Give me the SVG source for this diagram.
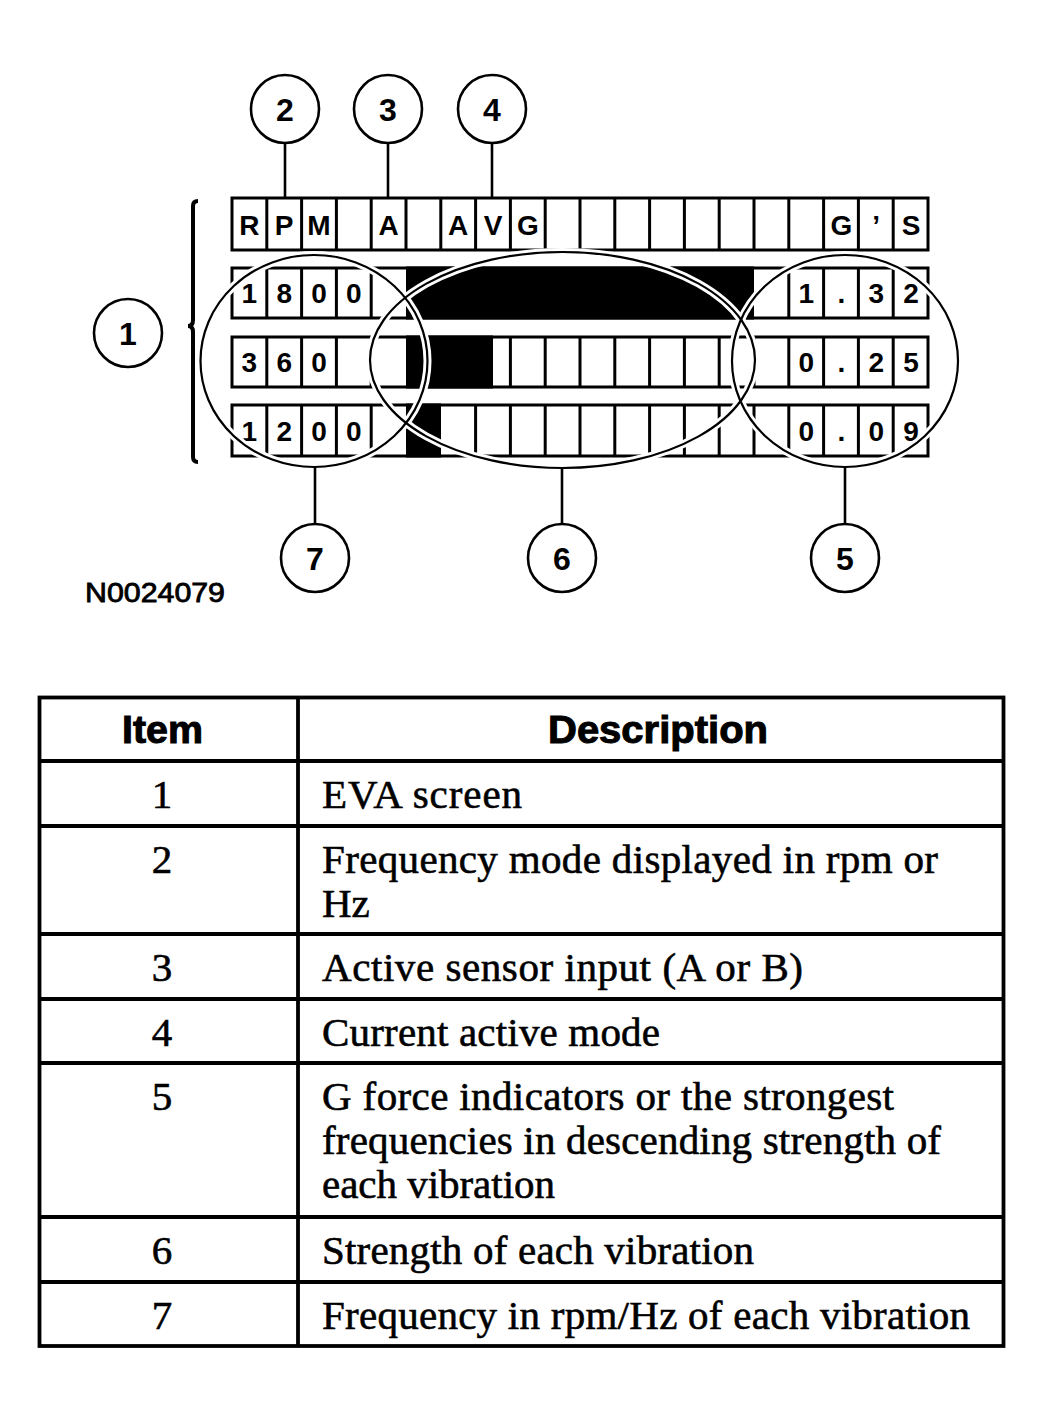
<svg xmlns="http://www.w3.org/2000/svg" width="1044" height="1423" viewBox="0 0 1044 1423">
<style>
.frame{fill:none;stroke:#000;stroke-width:3}
.div{stroke:#000;stroke-width:3}
.blk{fill:#000}
.lcd{font-family:"Liberation Sans",Arial,sans-serif;font-weight:bold;font-size:28px;text-anchor:middle;fill:#000}
.halo{fill:none;stroke:#fff;stroke-width:8}
.ring{fill:none;stroke:#000;stroke-width:2.2}
.callout circle{fill:#fff;stroke:#000;stroke-width:2.6}
.callout text{font-family:"Liberation Sans",Arial,sans-serif;font-weight:bold;font-size:32px;text-anchor:middle;fill:#000}
.conn line{stroke:#000;stroke-width:2.6}
.tbl{fill:none;stroke:#000;stroke-width:3.8}
.th{font-family:"Liberation Sans",Arial,sans-serif;font-weight:bold;font-size:38px;text-anchor:middle;fill:#000;stroke:#000;stroke-width:1}
.td{font-family:"Liberation Serif","Times New Roman",serif;font-size:41px;fill:#000;stroke:#000;stroke-width:0.6}
.tn{font-family:"Liberation Serif","Times New Roman",serif;font-size:41px;text-anchor:middle;fill:#000;stroke:#000;stroke-width:0.6}
</style>
<rect width="1044" height="1423" fill="#fff"/>

<g id="display">
  <!-- top row -->
  <rect class="frame" x="232" y="198" width="696" height="52"/>
  <path class="div" d="M266.8 198V250M301.6 198V250M336.4 198V250M371.2 198V250M406 198V250M440.8 198V250M475.6 198V250M510.4 198V250M545.2 198V250M580 198V250M614.8 198V250M649.6 198V250M684.4 198V250M719.2 198V250M754 198V250M788.8 198V250M823.6 198V250M858.4 198V250M893.2 198V250"/>
  <g class="lcd">
    <text x="249.4" y="235">R</text><text x="284.2" y="235">P</text><text x="319" y="235">M</text>
    <text x="388.6" y="235">A</text>
    <text x="458.2" y="235">A</text><text x="493" y="235">V</text><text x="527.8" y="235">G</text>
    <text x="841.4" y="235">G</text><text x="876.2" y="235">’</text><text x="911" y="235">S</text>
  </g>
  <!-- row 2 -->
  <rect class="frame" x="232" y="268" width="696" height="50"/>
  <path class="div" d="M266.8 268V318M301.6 268V318M336.4 268V318M371.2 268V318M788.8 268V318M823.6 268V318M858.4 268V318M893.2 268V318"/>
  <rect class="blk" x="406" y="266.5" width="348" height="53"/>
  <g class="lcd">
    <text x="249.4" y="303">1</text><text x="284.2" y="303">8</text><text x="319" y="303">0</text><text x="353.8" y="303">0</text>
    <text x="806.2" y="303">1</text><text x="841.4" y="303">.</text><text x="876.2" y="303">3</text><text x="911" y="303">2</text>
  </g>
  <!-- row 3 -->
  <rect class="frame" x="232" y="337" width="696" height="50"/>
  <path class="div" d="M266.8 337V387M301.6 337V387M336.4 337V387M371.2 337V387M510.4 337V387M545.2 337V387M580 337V387M614.8 337V387M649.6 337V387M684.4 337V387M719.2 337V387M754 337V387M788.8 337V387M823.6 337V387M858.4 337V387M893.2 337V387"/>
  <rect class="blk" x="406" y="335.5" width="87" height="53"/>
  <g class="lcd">
    <text x="249.4" y="372">3</text><text x="284.2" y="372">6</text><text x="319" y="372">0</text>
    <text x="806.2" y="372">0</text><text x="841.4" y="372">.</text><text x="876.2" y="372">2</text><text x="911" y="372">5</text>
  </g>
  <!-- row 4 -->
  <rect class="frame" x="232" y="405" width="696" height="51"/>
  <path class="div" d="M266.8 405V456M301.6 405V456M336.4 405V456M371.2 405V456M475.6 405V456M510.4 405V456M545.2 405V456M580 405V456M614.8 405V456M649.6 405V456M684.4 405V456M719.2 405V456M754 405V456M788.8 405V456M823.6 405V456M858.4 405V456M893.2 405V456"/>
  <rect class="blk" x="406" y="403.5" width="35" height="54"/>
  <g class="lcd">
    <text x="249.4" y="441">1</text><text x="284.2" y="441">2</text><text x="319" y="441">0</text><text x="353.8" y="441">0</text>
    <text x="806.2" y="441">0</text><text x="841.4" y="441">.</text><text x="876.2" y="441">0</text><text x="911" y="441">9</text>
  </g>
  <!-- highlight rings: halos first, then lines -->
  <ellipse class="halo" cx="314" cy="361" rx="113.5" ry="106"/>
  <ellipse class="halo" cx="562.5" cy="360" rx="192.5" ry="108"/>
  <ellipse class="halo" cx="845" cy="361" rx="113" ry="106"/>
  <ellipse class="ring" cx="314" cy="361" rx="113.5" ry="106"/>
  <ellipse class="ring" cx="562.5" cy="360" rx="192.5" ry="108"/>
  <ellipse class="ring" cx="845" cy="361" rx="113" ry="106"/>
  <!-- bracket for item 1 -->
  <path d="M198 201Q193 201 193 206L193 320Q193 326 188 326Q193 326 193 332L193 457Q193 462 198 462" fill="none" stroke="#000" stroke-width="4"/>
</g>

<g id="connectors" class="conn">
  <line x1="285" y1="143" x2="285" y2="198"/>
  <line x1="388" y1="143" x2="388" y2="198"/>
  <line x1="492" y1="143" x2="492" y2="198"/>
  <line x1="315" y1="467" x2="315" y2="524"/>
  <line x1="562" y1="468" x2="562" y2="524"/>
  <line x1="845" y1="467" x2="845" y2="524"/>
</g>

<g id="callout-1" class="callout"><circle cx="128" cy="333" r="34"/><text x="128" y="344.5">1</text></g>
<g id="callout-2" class="callout"><circle cx="285" cy="109" r="34"/><text x="285" y="120.5">2</text></g>
<g id="callout-3" class="callout"><circle cx="388" cy="109" r="34"/><text x="388" y="120.5">3</text></g>
<g id="callout-4" class="callout"><circle cx="492" cy="109" r="34"/><text x="492" y="120.5">4</text></g>
<g id="callout-7" class="callout"><circle cx="315" cy="558" r="34"/><text x="315" y="569.5">7</text></g>
<g id="callout-6" class="callout"><circle cx="562" cy="558" r="34"/><text x="562" y="569.5">6</text></g>
<g id="callout-5" class="callout"><circle cx="845" cy="558" r="34"/><text x="845" y="569.5">5</text></g>

<text id="figure-id" x="85" y="602" font-family="'Liberation Sans',Arial,sans-serif" font-size="27" textLength="140" lengthAdjust="spacingAndGlyphs" fill="#000" stroke="#000" stroke-width="0.8">N0024079</text>

<g id="table">
  <rect class="tbl" x="39.5" y="697.5" width="964" height="648.5"/>
  <path class="tbl" d="M298 697.5V1346M39.5 761H1003.5M39.5 826H1003.5M39.5 934H1003.5M39.5 999H1003.5M39.5 1063H1003.5M39.5 1217H1003.5M39.5 1282H1003.5"/>
  <text class="th" x="162.5" y="743" textLength="81" lengthAdjust="spacingAndGlyphs">Item</text>
  <text class="th" x="658" y="743" textLength="220" lengthAdjust="spacingAndGlyphs">Description</text>
  <g>
    <text class="tn" x="162" y="808">1</text>
    <text class="tn" x="162" y="873">2</text>
    <text class="tn" x="162" y="981">3</text>
    <text class="tn" x="162" y="1046">4</text>
    <text class="tn" x="162" y="1110">5</text>
    <text class="tn" x="162" y="1264">6</text>
    <text class="tn" x="162" y="1329">7</text>
  </g>
  <g>
    <text class="td" x="322" y="808" textLength="200" lengthAdjust="spacing">EVA screen</text>
    <text class="td" x="322" y="873" textLength="616" lengthAdjust="spacing">Frequency mode displayed in rpm or</text>
    <text class="td" x="322" y="917">Hz</text>
    <text class="td" x="322" y="981" textLength="481" lengthAdjust="spacing">Active sensor input (A or B)</text>
    <text class="td" x="322" y="1046" textLength="338" lengthAdjust="spacing">Current active mode</text>
    <text class="td" x="322" y="1110" textLength="572" lengthAdjust="spacing">G force indicators or the strongest</text>
    <text class="td" x="322" y="1154" textLength="619" lengthAdjust="spacing">frequencies in descending strength of</text>
    <text class="td" x="322" y="1198" textLength="233" lengthAdjust="spacing">each vibration</text>
    <text class="td" x="322" y="1264" textLength="432" lengthAdjust="spacing">Strength of each vibration</text>
    <text class="td" x="322" y="1329" textLength="648" lengthAdjust="spacing">Frequency in rpm/Hz of each vibration</text>
  </g>
</g>
</svg>
